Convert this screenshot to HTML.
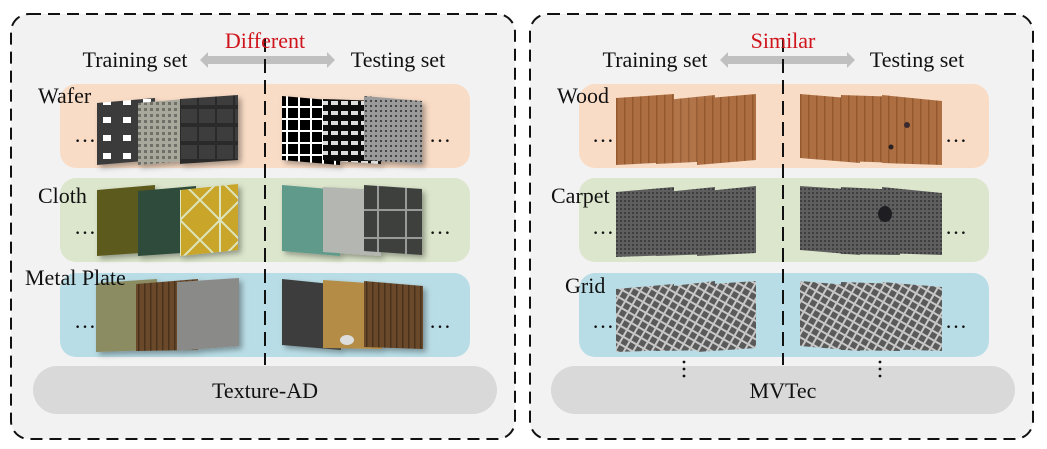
<!DOCTYPE html>
<html><head><meta charset="utf-8"><style>
html,body{margin:0;padding:0;background:#fff}
svg{display:block}
text{font-family:"Liberation Serif",serif}
</style></head><body>
<svg width="1047" height="449" viewBox="0 0 1047 449" xmlns="http://www.w3.org/2000/svg">
<defs>
<pattern id="wafA" width="20" height="18" patternUnits="userSpaceOnUse"><rect width="20" height="18" fill="#3a3a3a"/><rect x="3" y="9" width="8" height="6" fill="#fff"/></pattern>
<pattern id="wafB" width="6" height="6" patternUnits="userSpaceOnUse"><rect width="6" height="6" fill="#a8a89c"/><rect x="0" y="0" width="3" height="3" fill="#707068"/></pattern>
<pattern id="wafC" width="18" height="18" patternUnits="userSpaceOnUse"><rect width="18" height="18" fill="#2a2a2a"/><rect x="1" y="1" width="16" height="14" fill="#3d3d3d"/></pattern>
<pattern id="wafD" width="12" height="12" patternUnits="userSpaceOnUse"><rect width="12" height="12" fill="#fff"/><rect x="0" y="0" width="10" height="10" fill="#000"/></pattern>
<pattern id="wafE" width="10" height="10" patternUnits="userSpaceOnUse"><rect width="10" height="10" fill="#111"/><rect x="1" y="1" width="7" height="4" fill="#ddd"/></pattern>
<pattern id="wafF" width="5" height="5" patternUnits="userSpaceOnUse"><rect width="5" height="5" fill="#9a9a9a"/><rect width="2" height="2" fill="#444"/></pattern>
<pattern id="tri" width="40" height="40" patternUnits="userSpaceOnUse"><rect width="40" height="40" fill="#c9a62a"/><path d="M0 0L40 40M40 0L0 40M20 0V40" stroke="#dde6c0" stroke-width="2"/></pattern>
<pattern id="grd" width="28" height="28" patternUnits="userSpaceOnUse"><rect width="28" height="28" fill="#3d403d"/><path d="M14 0V28M0 14H28" stroke="#9a9a9a" stroke-width="2"/></pattern>
<pattern id="mesh" width="8" height="8" patternUnits="userSpaceOnUse" patternTransform="rotate(30)"><rect width="8" height="8" fill="#5a5a5a"/><path d="M0 4H8M4 0V8" stroke="#c8c8c8" stroke-width="2"/></pattern>
<pattern id="wood" width="8" height="70" patternUnits="userSpaceOnUse"><rect width="8" height="70" fill="#ad6e42"/><rect x="0" width="1.5" height="70" fill="#94592f"/></pattern>
<pattern id="woodD" width="6" height="70" patternUnits="userSpaceOnUse"><rect width="6" height="70" fill="#6a4a2c"/><rect x="0" width="1.5" height="70" fill="#4a321e"/></pattern>
<pattern id="carp" width="4" height="4" patternUnits="userSpaceOnUse"><rect width="4" height="4" fill="#5e5e5e"/><rect width="2" height="2" fill="#3f3f3f"/></pattern>
<filter id="sh" x="-20%" y="-20%" width="150%" height="150%"><feDropShadow dx="3" dy="3" stdDeviation="3" flood-color="#000" flood-opacity="0.35"/></filter>
</defs>

<rect x="11" y="14" width="504" height="425" rx="18" fill="#f2f2f2" stroke="#111" stroke-width="2" stroke-dasharray="12,7"/>
<rect x="530" y="14" width="503" height="425" rx="18" fill="#f2f2f2" stroke="#111" stroke-width="2" stroke-dasharray="12,7"/>

<rect x="60" y="84" width="410" height="84" rx="16" fill="#f9dcc6"/>
<rect x="60" y="178" width="410" height="84" rx="16" fill="#dce6cc"/>
<rect x="60" y="273" width="410" height="84" rx="16" fill="#b9dde6"/>
<rect x="33" y="366" width="464" height="48" rx="24" fill="#d9d9d9"/>
<rect x="579" y="84" width="410" height="84" rx="16" fill="#f9dcc6"/>
<rect x="579" y="178" width="410" height="84" rx="16" fill="#dce6cc"/>
<rect x="579" y="273" width="410" height="84" rx="16" fill="#b9dde6"/>
<rect x="551" y="366" width="464" height="48" rx="24" fill="#d9d9d9"/>

<polygon points="200,60 208,52 208,56 327,56 327,52 335,60 327,68 327,64 208,64 208,68" fill="#c0c0c0"/>
<polygon points="720,60 728,52 728,56 847,56 847,52 855,60 847,68 847,64 728,64 728,68" fill="#c0c0c0"/>

<g filter="url(#sh)">
<polygon points="97,103 155,98 155,160 97,165" fill="url(#wafA)"/>
<polygon points="138,103 196,98 196,160 138,165" fill="url(#wafB)"/>
<polygon points="180,99 238,95 238,160 180,164" fill="url(#wafC)"/>
<polygon points="282,96 340,101 340,165 282,160" fill="url(#wafD)"/>
<polygon points="323,99 381,101 381,164 323,160" fill="url(#wafE)"/>
<polygon points="364,96 422,101 422,164 364,160" fill="url(#wafF)"/>

<polygon points="97,190 155,185 155,252 97,256" fill="#5c5a1c"/>
<polygon points="138,191 196,186 196,252 138,256" fill="#2f4c3a"/>
<polygon points="180,190 238,184 238,250 180,256" fill="url(#tri)"/>
<polygon points="282,185 340,190 340,256 282,251" fill="#5f9a8a"/>
<polygon points="323,187 381,190 381,256 323,252" fill="#b4b6b2"/>
<polygon points="364,185 422,189 422,255 364,251" fill="url(#grd)"/>

<polygon points="96,283 157,279 157,350 96,352" fill="#8c8c62"/>
<polygon points="136,284 198,279 198,350 136,351" fill="url(#woodD)"/>
<polygon points="177,282 239,278 239,346 177,351" fill="#8a8a88"/>
<polygon points="282,279 341,285 341,350 282,345" fill="#3c3d3e"/>
<polygon points="323,280 382,284 382,349 323,348" fill="#b48c45"/>
<polygon points="364,281 423,286 423,349 364,347" fill="url(#woodD)"/>
</g>
<ellipse cx="347" cy="340" rx="7" ry="5" fill="#ddd"/>

<g>
<polygon points="616,98 674,94 674,162 616,165" fill="url(#wood)"/>
<polygon points="656,101 715,95 715,161 656,164" fill="url(#wood)" opacity="0.95"/>
<polygon points="697,99 756,94 756,160 697,165" fill="url(#wood)"/>
<polygon points="800,94 860,99 860,163 800,158" fill="url(#wood)"/>
<polygon points="841,95 900,97 900,163 841,161" fill="url(#wood)"/>
<polygon points="882,95 942,101 942,165 882,163" fill="url(#wood)"/>
<circle cx="907" cy="125" r="3" fill="#3a2a30"/><circle cx="891" cy="147" r="2.5" fill="#2a2020"/>

<polygon points="616,192 674,187 674,255 616,257" fill="url(#carp)"/>
<polygon points="656,193 715,187 715,254 656,256" fill="url(#carp)"/>
<polygon points="697,192 756,186 756,253 697,256" fill="url(#carp)"/>
<polygon points="800,186 860,190 860,255 800,250" fill="url(#carp)"/>
<polygon points="841,187 900,190 900,255 841,254" fill="url(#carp)"/>
<polygon points="882,187 942,193 942,255 882,253" fill="url(#carp)"/>
<ellipse cx="885" cy="214" rx="7" ry="8" fill="#1e1e22"/>

<polygon points="616,289 674,284 674,350 616,352" fill="url(#mesh)"/>
<polygon points="656,288 715,281 715,350 656,351" fill="url(#mesh)"/>
<polygon points="697,285 756,281 756,348 697,352" fill="url(#mesh)"/>
<polygon points="800,281 860,286 860,351 800,346" fill="url(#mesh)"/>
<polygon points="841,282 900,284 900,351 841,350" fill="url(#mesh)"/>
<polygon points="882,282 942,287 942,351 882,349" fill="url(#mesh)"/>
</g>

<line x1="265" y1="38" x2="265" y2="365" stroke="#111" stroke-width="2" stroke-dasharray="14,7"/>
<line x1="783" y1="38" x2="783" y2="365" stroke="#111" stroke-width="2" stroke-dasharray="14,7"/>

<g font-size="22" fill="#111">
<text x="265" y="48" text-anchor="middle" fill="#d0141c">Different</text>
<text x="783" y="48" text-anchor="middle" fill="#d0141c">Similar</text>
<text x="135" y="67" text-anchor="middle">Training set</text>
<text x="398" y="67" text-anchor="middle">Testing set</text>
<text x="655" y="67" text-anchor="middle">Training set</text>
<text x="917" y="67" text-anchor="middle">Testing set</text>
<text x="38" y="103">Wafer</text>
<text x="38" y="203">Cloth</text>
<text x="25" y="285">Metal Plate</text>
<text x="557" y="103">Wood</text>
<text x="551" y="203">Carpet</text>
<text x="565" y="293">Grid</text>
<text x="265" y="398" text-anchor="middle">Texture-AD</text>
<text x="783" y="398" text-anchor="middle">MVTec</text>
<text x="74" y="142">…</text><text x="429" y="142">…</text>
<text x="74" y="234">…</text><text x="429" y="234">…</text>
<text x="74" y="328">…</text><text x="429" y="328">…</text>
<text x="592" y="142">…</text><text x="945" y="142">…</text>
<text x="592" y="234">…</text><text x="945" y="234">…</text>
<text x="592" y="328">…</text><text x="945" y="328">…</text>
</g>
<g fill="#111">
<circle cx="684" cy="362" r="1.4"/><circle cx="684" cy="369" r="1.4"/><circle cx="684" cy="376" r="1.4"/>
<circle cx="880" cy="362" r="1.4"/><circle cx="880" cy="369" r="1.4"/><circle cx="880" cy="376" r="1.4"/>
</g>
</svg>
</body></html>
